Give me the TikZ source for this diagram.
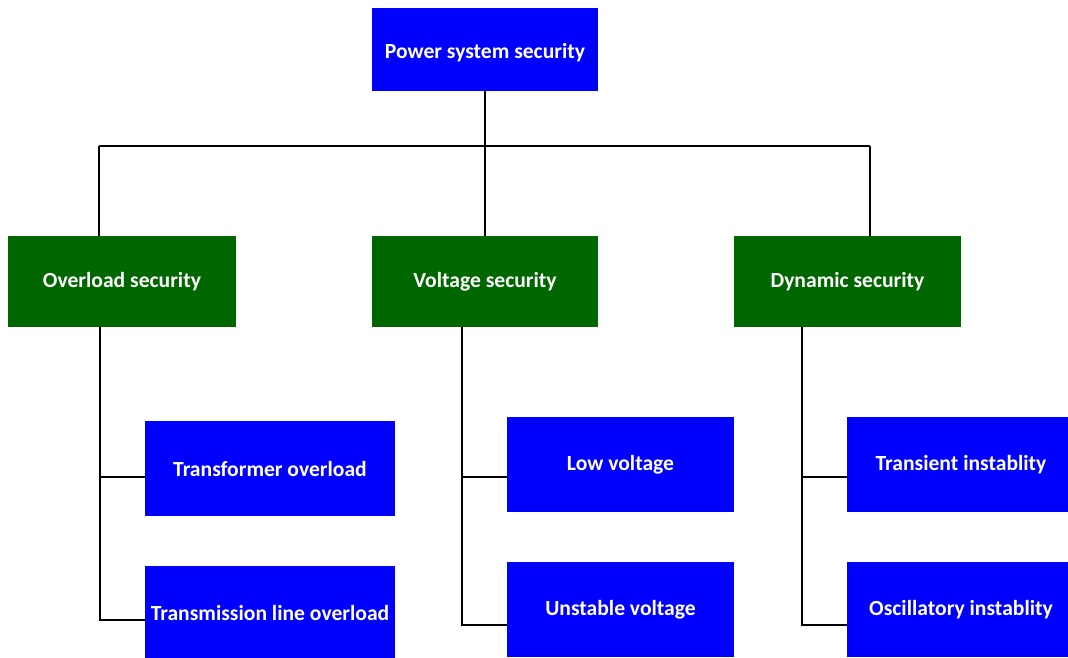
\documentclass[tikz,border=0pt]{standalone}
\usepackage{fontspec}
\setmainfont{Carlito}
\definecolor{boxblue}{RGB}{0,0,255}
\definecolor{boxgreen}{RGB}{0,102,0}
\begin{document}
\begin{tikzpicture}[x=1pt,y=-1pt,
  box/.style={rectangle, inner sep=0pt, text=white, font=\fontsize{21.6}{25}\selectfont\bfseries},
  bluebox/.style={box, fill=boxblue},
  greenbox/.style={box, fill=boxgreen},
  conn/.style={line width=2.2pt, black}]
\clip (0,0) rectangle (1068,657);
\fill[white] (0,0) rectangle (1068,657);
% top
\node[bluebox, minimum width=226, minimum height=83] (top) at (485,49.5) {};
\node[box] (toplabel) at (485,52.5) {Power system security};
% second level
\node[greenbox, minimum width=228, minimum height=91] (ov) at (122,281.5) {Overload security};
\node[greenbox, minimum width=226, minimum height=91] (volt) at (485,281.5) {Voltage security};
\node[greenbox, minimum width=227, minimum height=91] (dyn) at (847.5,281.5) {Dynamic security};
% third level
\node[bluebox, minimum width=250, minimum height=95] (tf) at (270,468.5) {Transformer overload};
\node[bluebox, minimum width=250, minimum height=95] (tl) at (270,613) {Transmission line overload};
\node[bluebox, minimum width=227, minimum height=95] (lv) at (620.5,464.5) {Low voltage};
\node[bluebox, minimum width=227, minimum height=95] (uv) at (620.5,609.5) {Unstable voltage};
\node[bluebox, minimum width=228, minimum height=95] (ti) at (961,464.5) {Transient instablity};
\node[bluebox, minimum width=228, minimum height=95] (oi) at (961,609.5) {Oscillatory instablity};
% level 1 connectors
\coordinate (hl) at (99,146);
\coordinate (hr) at (870,146);
\draw[conn] (hl) -- (hr);
\draw[conn] (top.south) -- (volt.north);
\draw[conn] (hl) -- (hl |- ov.north);
\draw[conn] (hr) -- (hr |- dyn.north);
% overload branch
\coordinate (oj1) at (100,477);
\coordinate (oj2) at (100,620);
\draw[conn] (ov.south -| oj1) -- (oj2) -- (oj2 -| tl.west);
\draw[conn] (oj1) -- (oj1 -| tf.west);
% voltage branch
\coordinate (vj1) at (462,477);
\coordinate (vj2) at (462,625);
\draw[conn] (volt.south -| vj1) -- (vj2) -- (vj2 -| uv.west);
\draw[conn] (vj1) -- (vj1 -| lv.west);
% dynamic branch
\coordinate (dj1) at (802,477);
\coordinate (dj2) at (802,625);
\draw[conn] (dyn.south -| dj1) -- (dj2) -- (dj2 -| oi.west);
\draw[conn] (dj1) -- (dj1 -| ti.west);
\end{tikzpicture}
\end{document}
